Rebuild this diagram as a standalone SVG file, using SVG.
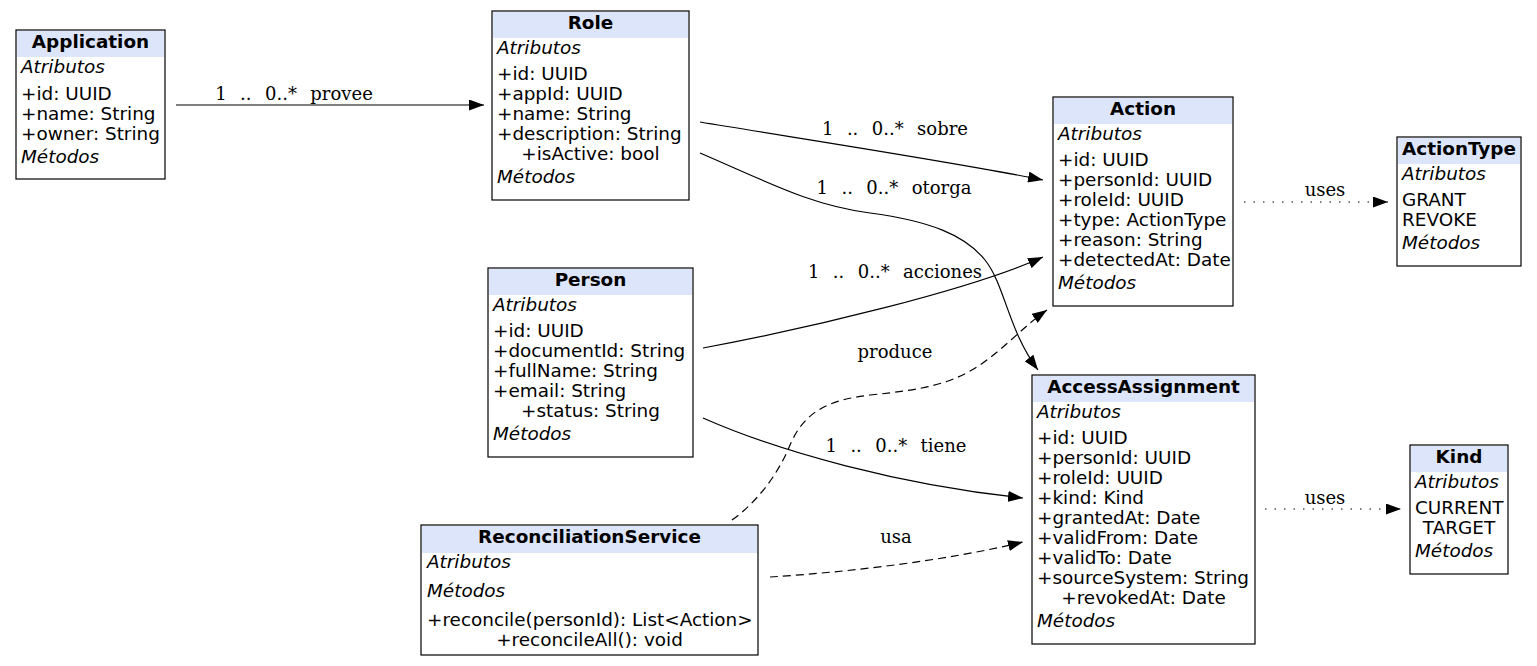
<svg xmlns="http://www.w3.org/2000/svg" width="1537" height="666" viewBox="0 0 1537 666">
<style>
.box{fill:#fff;stroke:#000;stroke-width:1.2}
.hdr{fill:#dde5fa;stroke:none}
.t{font-family:"DejaVu Sans",sans-serif;font-size:18.4px;fill:#000}
.ti{font-weight:bold;text-anchor:middle}
.it{font-style:italic}
.c{text-anchor:middle}
.lbl{font-family:"DejaVu Serif",serif;font-size:18px;fill:#000;text-anchor:middle;white-space:pre;word-spacing:1px}
.e{fill:none;stroke:#000;stroke-width:1.2}
.dash{stroke-dasharray:8 5}
.dot{stroke-dasharray:1.5 8}
</style>
<defs>
<marker id="arr" viewBox="0 0 15 11" refX="15" refY="5.5" markerUnits="userSpaceOnUse" markerWidth="15" markerHeight="11" orient="auto">
<path d="M0,0 L15,5.5 L0,11 z" fill="#000" stroke="none"/>
</marker>
</defs>
<rect width="1537" height="666" fill="#fff"/>

<g id="connectors">
<path class="e" d="M176,105 L484,105" marker-end="url(#arr)"/>
<text class="lbl" x="294" y="100" xml:space="preserve">1  ..  0..*  provee</text>
<path class="e" d="M700,122 C790,137 960,163 1043,180" marker-end="url(#arr)"/>
<text class="lbl" x="895" y="135" xml:space="preserve">1  ..  0..*  sobre</text>
<path class="e" d="M700,153 C770,183 810,205 870,213 C930,221 965,235 985,260 C1005,285 1008,330 1038,370" marker-end="url(#arr)"/>
<text class="lbl" x="894" y="194" xml:space="preserve">1  ..  0..*  otorga</text>
<path class="e" d="M703,348 C810,328 970,290 1043,257" marker-end="url(#arr)"/>
<text class="lbl" x="895" y="278" xml:space="preserve">1  ..  0..*  acciones</text>
<path class="e" d="M703,418 C780,452 900,485 1023,498" marker-end="url(#arr)"/>
<text class="lbl" x="896" y="452" xml:space="preserve">1  ..  0..*  tiene</text>
<path class="e dash" d="M732,520 C760,500 780,470 790,445 C805,410 830,400 870,395 C920,390 950,385 980,365 C1005,348 1025,325 1047,310" marker-end="url(#arr)"/>
<text class="lbl" x="895" y="358">produce</text>
<path class="e dash" d="M770,577 C850,572 950,560 1023,542" marker-end="url(#arr)"/>
<text class="lbl" x="896" y="543">usa</text>
<path class="e dot" d="M1244,202 L1388,202" marker-end="url(#arr)"/>
<text class="lbl" x="1325" y="196">uses</text>
<path class="e dot" d="M1265,509 L1401,509" marker-end="url(#arr)"/>
<text class="lbl" x="1325" y="504">uses</text>
</g>

<g id="Application">
<rect class="box" x="16" y="30" width="149" height="149"/>
<rect class="hdr" x="17" y="31" width="147" height="26"/>
<text class="t ti" x="90.5" y="48">Application</text>
<text class="t it" x="21" y="73">Atributos</text>
<text class="t" x="21" y="100">+id: UUID</text>
<text class="t" x="21" y="120">+name: String</text>
<text class="t" x="21" y="140">+owner: String</text>
<text class="t it" x="21" y="163">Métodos</text>
</g>

<g id="Role">
<rect class="box" x="492" y="11" width="197" height="189"/>
<rect class="hdr" x="493" y="12" width="195" height="26"/>
<text class="t ti" x="590.5" y="28.5">Role</text>
<text class="t it" x="497" y="54">Atributos</text>
<text class="t" x="497" y="80">+id: UUID</text>
<text class="t" x="497" y="100">+appId: UUID</text>
<text class="t" x="497" y="120">+name: String</text>
<text class="t" x="497" y="140">+description: String</text>
<text class="t c" x="590.5" y="160">+isActive: bool</text>
<text class="t it" x="497" y="183">Métodos</text>
</g>

<g id="Person">
<rect class="box" x="488" y="268" width="205" height="189"/>
<rect class="hdr" x="489" y="269" width="203" height="26"/>
<text class="t ti" x="590.5" y="286">Person</text>
<text class="t it" x="493" y="311">Atributos</text>
<text class="t" x="493" y="337">+id: UUID</text>
<text class="t" x="493" y="357">+documentId: String</text>
<text class="t" x="493" y="377">+fullName: String</text>
<text class="t" x="493" y="397">+email: String</text>
<text class="t c" x="590.5" y="417">+status: String</text>
<text class="t it" x="493" y="440">Métodos</text>
</g>

<g id="ReconciliationService">
<rect class="box" x="421" y="525" width="337" height="130"/>
<rect class="hdr" x="422" y="526" width="335" height="27"/>
<text class="t ti" x="589.5" y="543">ReconciliationService</text>
<text class="t it" x="427" y="568">Atributos</text>
<text class="t it" x="427" y="597">Métodos</text>
<text class="t" x="427" y="626">+reconcile(personId): List&lt;Action&gt;</text>
<text class="t c" x="589.5" y="646">+reconcileAll(): void</text>
</g>

<g id="Action">
<rect class="box" x="1053" y="97" width="180" height="209"/>
<rect class="hdr" x="1054" y="98" width="178" height="26"/>
<text class="t ti" x="1143" y="115">Action</text>
<text class="t it" x="1058" y="140">Atributos</text>
<text class="t" x="1058" y="166">+id: UUID</text>
<text class="t" x="1058" y="186">+personId: UUID</text>
<text class="t" x="1058" y="206">+roleId: UUID</text>
<text class="t" x="1058" y="226">+type: ActionType</text>
<text class="t" x="1058" y="246">+reason: String</text>
<text class="t" x="1058" y="266">+detectedAt: Date</text>
<text class="t it" x="1058" y="289">Métodos</text>
</g>

<g id="ActionType">
<rect class="box" x="1397" y="137" width="124" height="129"/>
<rect class="hdr" x="1398" y="138" width="122" height="26"/>
<text class="t ti" x="1459" y="155">ActionType</text>
<text class="t it" x="1402" y="180">Atributos</text>
<text class="t" x="1402" y="206">GRANT</text>
<text class="t" x="1402" y="226">REVOKE</text>
<text class="t it" x="1402" y="249">Métodos</text>
</g>

<g id="AccessAssignment">
<rect class="box" x="1032" y="375" width="223" height="269"/>
<rect class="hdr" x="1033" y="376" width="221" height="26"/>
<text class="t ti" x="1143.5" y="393">AccessAssignment</text>
<text class="t it" x="1037" y="418">Atributos</text>
<text class="t" x="1037" y="444">+id: UUID</text>
<text class="t" x="1037" y="464">+personId: UUID</text>
<text class="t" x="1037" y="484">+roleId: UUID</text>
<text class="t" x="1037" y="504">+kind: Kind</text>
<text class="t" x="1037" y="524">+grantedAt: Date</text>
<text class="t" x="1037" y="544">+validFrom: Date</text>
<text class="t" x="1037" y="564">+validTo: Date</text>
<text class="t" x="1037" y="584">+sourceSystem: String</text>
<text class="t c" x="1143.5" y="604">+revokedAt: Date</text>
<text class="t it" x="1037" y="627">Métodos</text>
</g>

<g id="Kind">
<rect class="box" x="1410" y="445" width="98" height="129"/>
<rect class="hdr" x="1411" y="446" width="96" height="26"/>
<text class="t ti" x="1459" y="463">Kind</text>
<text class="t it" x="1415" y="488">Atributos</text>
<text class="t" x="1415" y="514">CURRENT</text>
<text class="t c" x="1459" y="534">TARGET</text>
<text class="t it" x="1415" y="557">Métodos</text>
</g>
</svg>
